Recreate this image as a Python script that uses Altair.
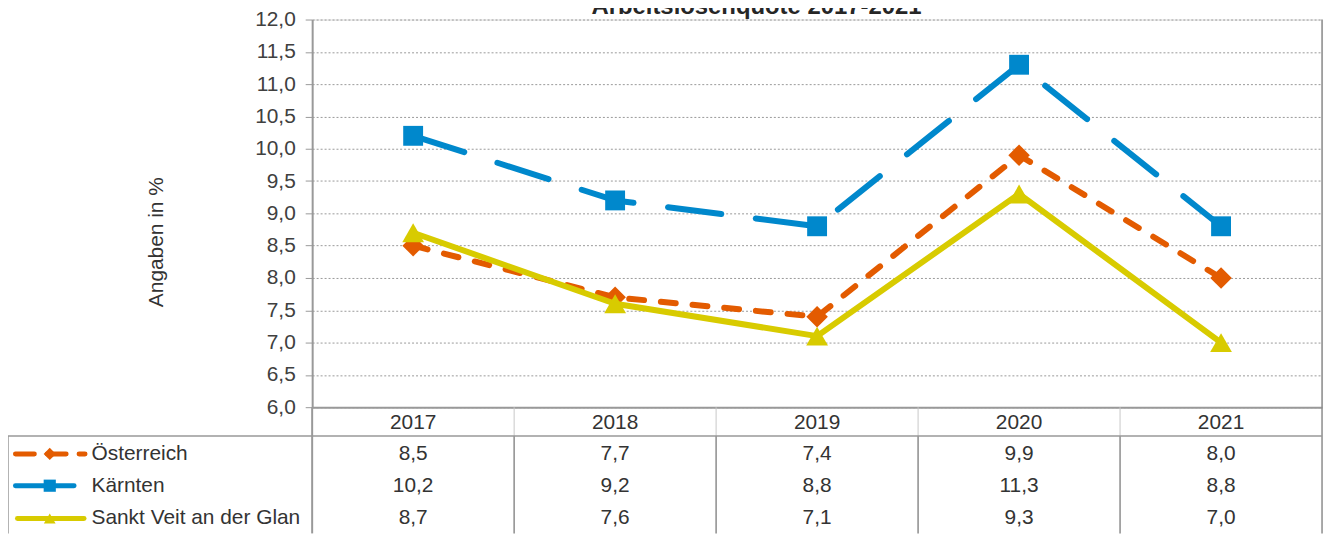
import altair as alt
import pandas as pd

# ---- data ----
years = ["2017", "2018", "2019", "2020", "2021"]
series_names = ["Österreich", "Kärnten", "Sankt Veit an der Glan"]
oesterreich = [8.5, 7.7, 7.4, 9.9, 8.0]
kaernten = [10.2, 9.2, 8.8, 11.3, 8.8]
sankt_veit = [8.7, 7.6, 7.1, 9.3, 7.0]
y_ticks = [6.0, 6.5, 7.0, 7.5, 8.0, 8.5, 9.0, 9.5, 10.0, 10.5, 11.0, 11.5, 12.0]
title_text = "Arbeitslosenquote 2017-2021"
y_title = "Angaben in %"

values = {"Österreich": oesterreich, "Kärnten": kaernten, "Sankt Veit an der Glan": sankt_veit}
colors = {"Österreich": "#E35B00", "Kärnten": "#0088CC", "Sankt Veit an der Glan": "#D8CB00"}
shapes = {"Österreich": "diamond", "Kärnten": "square", "Sankt Veit an der Glan": "triangle-up"}
sizes = {"Österreich": 470, "Kärnten": 400, "Sankt Veit an der Glan": 480}
dashes = {"Österreich": [15, 17], "Kärnten": [54, 35], "Sankt Veit an der Glan": None}

def frame(name):
    v = values[name]
    return pd.DataFrame({
        "year": years,
        "value": v,
        "label": [f"{x:.1f}".replace(".", ",") for x in v],
    })

W, H = 1016, 390
FONT = "Liberation Sans"
TXT = "#333333"
FS = 21

xscale = alt.Scale(type="band", domain=years, paddingInner=0, paddingOuter=0)
xaxis = alt.Axis(labels=False, ticks=False, title=None, grid=False,
                 domainColor="#999999", domainWidth=2)
yscale = alt.Scale(domain=[6, 12], nice=False, zero=False)
yaxis = alt.Axis(values=y_ticks, title=None,
                 labelExpr="replace(format(datum.value, '.1f'), '.', ',')",
                 labelFont=FONT, labelFontSize=FS, labelColor="#404040",
                 labelPadding=10, tickSize=7, tickColor="#999999", tickWidth=1,
                 domainColor="#999999", domainWidth=2,
                 grid=True, gridColor="#999999", gridDash=[2, 2], gridWidth=1)


def X(bp=None):
    if bp is None:
        return alt.X("year:O", scale=xscale, axis=xaxis)
    return alt.X("year:O", scale=xscale, axis=xaxis, bandPosition=bp)


def Y():
    return alt.Y("value:Q", scale=yscale, axis=yaxis)


layers = []
# lines and markers
for name in ["Kärnten", "Österreich", "Sankt Veit an der Glan"]:
    df = frame(name)
    lkw = dict(color=colors[name], strokeWidth=6, strokeJoin="round")
    if dashes[name]:
        lkw.update(strokeDash=dashes[name], strokeCap="round")
    layers.append(alt.Chart(df).mark_line(**lkw).encode(x=X(), y=Y()))
    layers.append(alt.Chart(df).mark_point(shape=shapes[name], filled=True, size=sizes[name],
                                           opacity=1, color=colors[name]).encode(x=X(), y=Y()))

# ---- table below the plot ----
hdr_y, row_line_y, bottom_y = 406, 419, 517
row_ys = {"Österreich": 437, "Kärnten": 469, "Sankt Veit an der Glan": 502}

year_df = pd.DataFrame({"year": years})
inner_df = pd.DataFrame({"year": years[1:]})
last_df = pd.DataFrame({"year": years[-1:]})

# vertical separators
layers.append(alt.Chart(inner_df).mark_rule(color="#C8C8C8", strokeWidth=1).encode(
    x=X(0), y=alt.value(H), y2=alt.value(row_line_y)))
layers.append(alt.Chart(inner_df).mark_rule(color="#8C8C8C", strokeWidth=1.5).encode(
    x=X(0), y=alt.value(row_line_y), y2=alt.value(bottom_y)))
layers.append(alt.Chart(last_df).mark_rule(color="#8C8C8C", strokeWidth=1.5).encode(
    x=X(1), y=alt.value(0), y2=alt.value(bottom_y)))
layers.append(alt.Chart(year_df.head(1)).mark_rule(color="#999999", strokeWidth=2).encode(
    x=X(0), y=alt.value(H), y2=alt.value(bottom_y)))
# horizontal line + legend left border
layers.append(alt.Chart(year_df.head(1)).mark_rule(color="#999999", strokeWidth=1.5).encode(
    x=alt.value(-306), x2=alt.value(W), y=alt.value(row_line_y)))
layers.append(alt.Chart(year_df.head(1)).mark_rule(color="#999999", strokeWidth=1.5).encode(
    x=alt.value(-306), y=alt.value(row_line_y), y2=alt.value(bottom_y)))

# header years
layers.append(alt.Chart(year_df).mark_text(font=FONT, fontSize=FS, color=TXT, baseline="middle").encode(
    x=X(), y=alt.value(hdr_y), text="year:N"))

# value rows + legend labels / glyphs
leg_line = {"Österreich": (-298.5, -228.5), "Kärnten": (-298.5, -239.5),
            "Sankt Veit an der Glan": (-296.5, -229.5)}
leg_dash = {"Österreich": [19, 13], "Kärnten": None, "Sankt Veit an der Glan": None}
leg_size = {"Österreich": 150, "Kärnten": 150, "Sankt Veit an der Glan": 140}
for name in series_names:
    df = frame(name)
    ry = row_ys[name]
    layers.append(alt.Chart(df).mark_text(font=FONT, fontSize=FS, color=TXT, baseline="middle").encode(
        x=X(), y=alt.value(ry), text="label:N"))
    lab = pd.DataFrame({"name": [name]})
    layers.append(alt.Chart(lab).mark_text(font=FONT, fontSize=FS, color=TXT, baseline="middle",
                                           align="left").encode(
        x=alt.value(-222), y=alt.value(ry), text="name:N"))
    rkw = dict(color=colors[name], strokeWidth=5, strokeCap="round")
    if leg_dash[name]:
        rkw.update(strokeDash=leg_dash[name])
    x0, x1 = leg_line[name]
    layers.append(alt.Chart(lab).mark_rule(**rkw).encode(
        x=alt.value(x0), x2=alt.value(x1), y=alt.value(ry)))
    layers.append(alt.Chart(lab).mark_point(shape=shapes[name], filled=True, size=leg_size[name],
                                            opacity=1, color=colors[name]).encode(
        x=alt.value(-264), y=alt.value(ry)))

# title (cut at the top as in the reference) and y-axis title
tdf = pd.DataFrame({"t": [title_text]})
layers.append(alt.Chart(tdf).mark_text(font=FONT, fontSize=24, fontWeight="bold", color="#262626",
                                       baseline="alphabetic").encode(
    x=alt.value(447), y=alt.value(-6), text="t:N"))
ydf = pd.DataFrame({"t": [y_title]})
layers.append(alt.Chart(ydf).mark_text(font=FONT, fontSize=FS, color=TXT, angle=270,
                                       baseline="middle").encode(
    x=alt.value(-156), y=alt.value(224), text="t:N"))

chart = alt.layer(*layers).properties(
    width=W, height=H,
    autosize=alt.AutoSizeParams(type="none"),
    padding={"left": 306, "top": 10, "right": 6, "bottom": 127},
).configure_view(stroke=None).configure(background="white")

chart.save("out.html", embed_options={"renderer": "svg", "actions": False})
